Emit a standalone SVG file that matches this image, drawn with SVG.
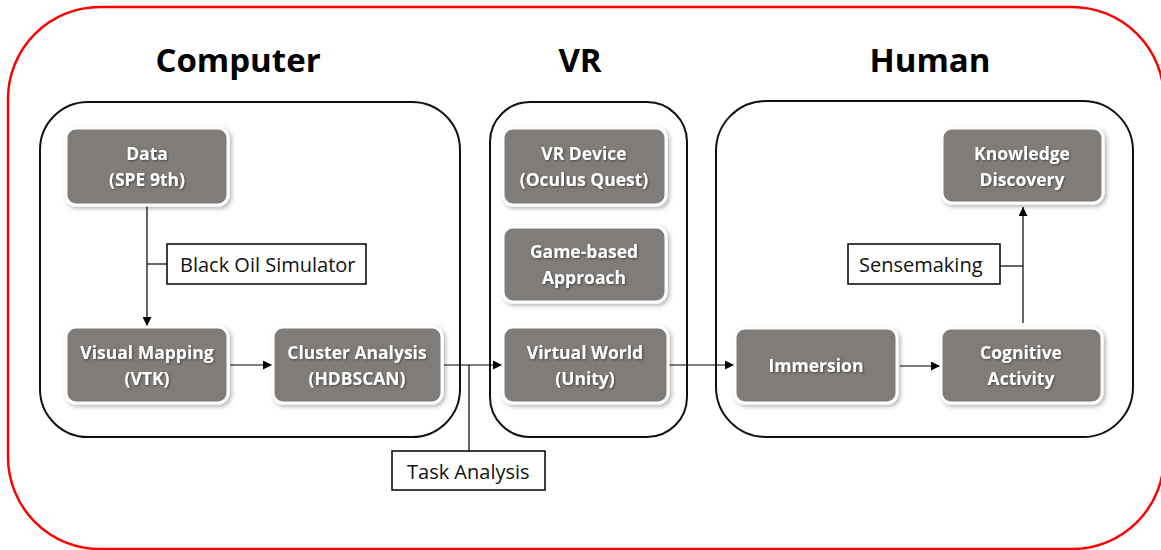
<svg xmlns="http://www.w3.org/2000/svg" width="1161" height="550" viewBox="0 0 1161 550">
  <defs>
    <filter id="shadow" x="-10%" y="-15%" width="125%" height="140%">
      <feDropShadow dx="2" dy="2" stdDeviation="2" flood-color="#000" flood-opacity="0.3"/>
    </filter>
    <filter id="txtShadow" x="-10%" y="-20%" width="120%" height="150%">
      <feDropShadow dx="1" dy="1" stdDeviation="0.8" flood-color="#000" flood-opacity="0.45"/>
    </filter>
    <marker id="arrow" viewBox="0 0 10 10" refX="10" refY="5" markerWidth="9" markerHeight="9" markerUnits="userSpaceOnUse" orient="auto">
      <path d="M0,0 L10,5 L0,10 z" fill="#000"/>
    </marker>
  </defs>
  <style>
    .frame { fill: #fff; stroke: #ff0000; stroke-width: 2.5; }
    .group { fill: #fff; stroke: #111; stroke-width: 2; }
    .title { font-family: "Open Sans", "Noto Sans", sans-serif; font-weight: bold; font-size: 33px; fill: #000; text-anchor: middle; }
    .node rect { fill: #7f7b79; stroke: #fff; stroke-width: 3; filter: url(#shadow); }
    .node text { font-family: "Open Sans", "Noto Sans", sans-serif; font-weight: bold; font-size: 17.5px; fill: #fff; text-anchor: middle; filter: url(#txtShadow); }
    .label rect { fill: #fff; stroke: #000; stroke-width: 1.5; }
    .label text { font-family: "Open Sans", "Noto Sans", sans-serif; font-size: 20px; fill: #111; }
    .conn { fill: none; stroke: #000; stroke-width: 1.2; }
  </style>

  <rect width="1161" height="550" fill="#fff"/>
  <!-- outer frame -->
  <rect class="frame" x="8" y="7" width="1156" height="542" rx="92" ry="92"/>

  <!-- section titles -->
  <text class="title" x="238" y="72">Computer</text>
  <text class="title" x="580" y="72">VR</text>
  <text class="title" x="930" y="72">Human</text>

  <!-- section containers -->
  <rect id="computer" class="group" x="40" y="102" width="420" height="335" rx="48" ry="48"/>
  <rect id="vr" class="group" x="490" y="102" width="197" height="335" rx="40" ry="40"/>
  <rect id="human" class="group" x="716" y="101" width="417" height="336" rx="50" ry="50"/>

  <!-- connectors -->
  <g id="connectors">
    <path class="conn" d="M147,206 V326" marker-end="url(#arrow)"/>
    <path class="conn" d="M147,264 H167"/>
    <path class="conn" d="M230,365 H272" marker-end="url(#arrow)"/>
    <path class="conn" d="M444,365 H502" marker-end="url(#arrow)"/>
    <path class="conn" d="M469,365 V451"/>
    <path class="conn" d="M669,365 H734" marker-end="url(#arrow)"/>
    <path class="conn" d="M900,366 H940" marker-end="url(#arrow)"/>
    <path class="conn" d="M1023,323 V207" marker-end="url(#arrow)"/>
    <path class="conn" d="M1000,266 H1023"/>
  </g>

  <!-- nodes -->
  <g id="data" class="node">
    <rect x="66" y="128" width="162" height="77" rx="10" ry="10"/>
    <text x="147" y="160">Data</text>
    <text x="147" y="186">(SPE 9th)</text>
  </g>
  <g id="visual-mapping" class="node">
    <rect x="66" y="327" width="162" height="76" rx="10" ry="10"/>
    <text x="147" y="359">Visual Mapping</text>
    <text x="147" y="385">(VTK)</text>
  </g>
  <g id="cluster-analysis" class="node">
    <rect x="273" y="327" width="169" height="76" rx="10" ry="10"/>
    <text x="357" y="359">Cluster Analysis</text>
    <text x="357" y="385">(HDBSCAN)</text>
  </g>
  <g id="vr-device" class="node">
    <rect x="503" y="128" width="163" height="77" rx="10" ry="10"/>
    <text x="584" y="160">VR Device</text>
    <text x="584" y="186">(Oculus Quest)</text>
  </g>
  <g id="game-based" class="node">
    <rect x="503" y="227" width="163" height="75" rx="10" ry="10"/>
    <text x="584" y="258">Game-based</text>
    <text x="584" y="284">Approach</text>
  </g>
  <g id="virtual-world" class="node">
    <rect x="503" y="327" width="165" height="76" rx="10" ry="10"/>
    <text x="585" y="359">Virtual World</text>
    <text x="585" y="385">(Unity)</text>
  </g>
  <g id="immersion" class="node">
    <rect x="735" y="328" width="162" height="75" rx="10" ry="10"/>
    <text x="816" y="372">Immersion</text>
  </g>
  <g id="cognitive-activity" class="node">
    <rect x="941" y="328" width="161" height="75" rx="10" ry="10"/>
    <text x="1021" y="359">Cognitive</text>
    <text x="1021" y="385">Activity</text>
  </g>
  <g id="knowledge-discovery" class="node">
    <rect x="942" y="128" width="161" height="75" rx="10" ry="10"/>
    <text x="1022" y="160">Knowledge</text>
    <text x="1022" y="186">Discovery</text>
  </g>

  <!-- connector labels -->
  <g id="label-black-oil" class="label">
    <rect x="167" y="244" width="199" height="40"/>
    <text x="180" y="272">Black Oil Simulator</text>
  </g>
  <g id="label-task-analysis" class="label">
    <rect x="392" y="451" width="153" height="39"/>
    <text x="407" y="479">Task Analysis</text>
  </g>
  <g id="label-sensemaking" class="label">
    <rect x="848" y="244" width="152" height="40"/>
    <text x="859" y="272">Sensemaking</text>
  </g>
</svg>
